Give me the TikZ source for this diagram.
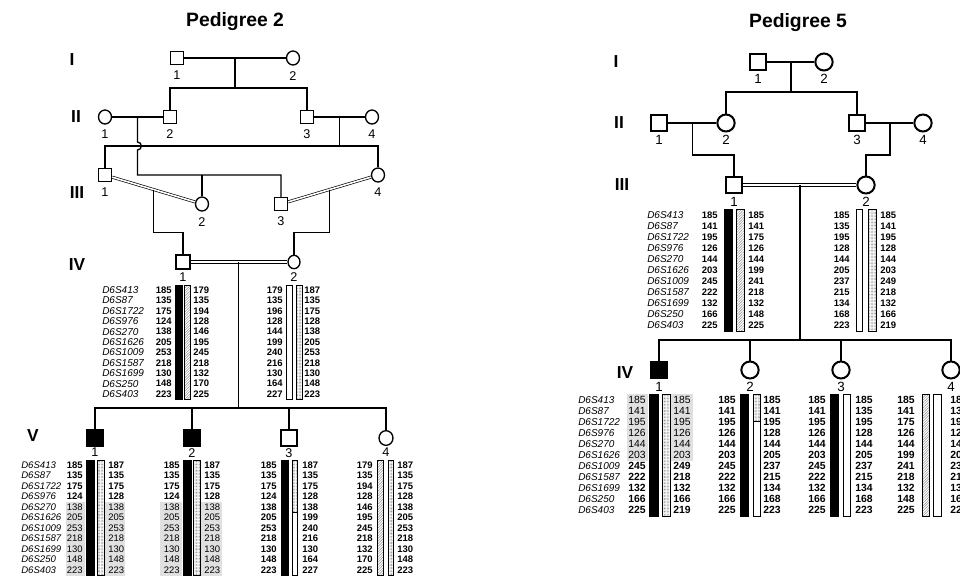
\documentclass[tikz,border=0pt]{standalone}
\usepackage{fontspec}
\setmainfont{Liberation Sans}
\usetikzlibrary{shapes.geometric}
\usetikzlibrary{patterns.meta}
\usetikzlibrary{calc}
\tikzstyle{sq}=[rectangle, draw=black, line width=1pt, minimum size=9.75pt, inner sep=0pt]
\tikzstyle{ci}=[ellipse, draw=black, line width=1pt, minimum width=9.75pt, minimum height=10.5pt,
                inner sep=0pt]
\tikzstyle{bsq}=[rectangle, draw=black, line width=1.5pt, minimum size=12.5pt, inner sep=0pt]
\tikzstyle{bci}=[ellipse, draw=black, line width=1.5pt, minimum width=13pt, minimum height=12.75pt,
                 inner sep=0pt]
\tikzstyle{aff}=[fill=black]
\tikzstyle{lbl}=[font=\fontsize{9.5}{9.5}\selectfont, inner sep=.5pt, yshift=-3.5pt]
\tikzstyle{dlbl}=[font=\fontsize{9.5}{9.5}\selectfont, inner sep=.5pt, yshift=-2pt]
\tikzstyle{elbl}=[font=\fontsize{9.5}{9.5}\selectfont, inner sep=.5pt, yshift=-.5pt]
\tikzstyle{blbl}=[font=\fontsize{10}{10}\selectfont, inner sep=.5pt, yshift=-1.2pt]
\tikzstyle{gen}=[font=\bfseries\fontsize{13}{13}\selectfont]
\tikzstyle{ttl}=[font=\bfseries\fontsize{14.5}{14.5}\selectfont]
\tikzstyle{mk}=[font=\itshape\fontsize{7.5}{7.5}\selectfont, inner sep=0pt, anchor=west]
\tikzstyle{smk}=[font=\itshape\fontsize{7.2}{7.2}\selectfont, inner sep=0pt, anchor=west]
\tikzstyle{num}=[font=\bfseries\fontsize{7.1}{7.1}\selectfont, inner sep=0pt]
\tikzstyle{bnum}=[font=\bfseries\fontsize{7.8}{7.8}\selectfont, inner sep=0pt]
\tikzstyle{blk}=[draw=black, line width=.4pt, fill=black]
\tikzstyle{wht}=[draw=black, line width=.4pt, fill=white]
\tikzstyle{hat}=[draw=black, line width=.4pt, pattern={Lines[angle=45, distance=1.4pt, line width=.35pt]},
                 pattern color=black!45]
\tikzstyle{stip}=[draw=black, line width=.4pt, pattern={Dots[distance=1.1pt, radius=.3pt]},
                  pattern color=black!55]
\tikzstyle{gry}=[fill=black!12, draw=none]
\tikzstyle{lnk}=[line width=1pt]
\tikzstyle{rlnk}=[line width=1.1pt]
\tikzstyle{cons}=[double, double distance=1.2pt, line width=.5pt]
\tikzstyle{rcons}=[double, double distance=1.5pt, line width=.8pt]

\begin{document}
\begin{tikzpicture}[x=.75pt, y=-.75pt]
      \useasboundingbox (0,0) rectangle (960,576);
      \clip (0,0) rectangle (960,576);

      %% Pedigree 2
      \node[ttl] (t2) at (235,22) {Pedigree 2};
      \node[gen] (g1) at (72,60) {I};
      \node[gen] (g2) at (76,117) {II};
      \node[gen] (g3) at (77,193) {III};
      \node[gen] (g4) at (77,265) {IV};
      \node[gen] (g5) at (33,436) {V};

      \node[sq, label={[lbl]below:1}] (a1) at (177,58) {};
      \node[ci, label={[lbl]below:2}] (a2) at (293,58) {};

      \node[ci, label={[lbl]below:1}] (b1) at (105,117) {};
      \node[sq, label={[lbl]below:2}] (b2) at (170,117) {};
      \node[sq, label={[lbl]below:3}] (b3) at (307,117) {};
      \node[ci, label={[lbl]below:4}] (b4) at (372,117) {};

      \node[sq, label={[lbl]below:1}] (c1) at (105,175) {};
      \node[ci, label={[lbl]below:2}] (c2) at (202,204) {};
      \node[sq, label={[lbl]below:3}] (c3) at (281,204) {};
      \node[ci, label={[lbl]below:4}] (c4) at (378,175) {};

      \node[sq, minimum size=10.5pt, label={[dlbl]below:1}] (d1) at (183,262) {};
      \node[ci, minimum width=9pt, minimum height=10pt, label={[dlbl]below:2}] (d2) at (294,262) {};

      \node[sq, aff, minimum size=12pt, label={[elbl]below:1}] (e1) at (95,438) {};
      \node[sq, aff, minimum size=12pt, label={[elbl]below:2}] (e2) at (192,438) {};
      \node[sq, minimum size=12pt, label={[elbl]below:3}] (e3) at (289,438) {};
      \node[ci, minimum width=10.5pt, minimum height=11pt, label={[elbl]below:4}] (e4) at (386,438) {};

      \draw[lnk] (a1) -- (a2);
      \coordinate (m1) at ($(a1)!.5!(a2)$);
      \coordinate (s1) at ($(m1)+(0,30)$);
      \draw[lnk] (m1) -- (s1);
      \draw[lnk] (b2) |- (s1) -| (b3);

      \draw[lnk] (b1) -- (b2);
      \coordinate (m2) at ($(b1)!.5!(b2)$);
      \coordinate (h1) at ($(m2)+(0,25)$);
      \coordinate (h2) at ($(m2)+(0,33)$);
      \coordinate (s2) at ($(m2)+(0,58)$);
      \draw[lnk] (b3) -- (b4);
      \coordinate (m3) at ($(b3)!.5!(b4)$);
      \coordinate (s3) at ($(m3)+(0,29)$);
      \draw[lnk] (m3) -- (s3);
      \draw[lnk] (c1) |- (s3) -| (c4);
      \draw[lnk] (m2) -- (h1) .. controls +(5,0) and +(5,0) .. (h2) -- (s2) -| (c3);
      \draw[lnk] (c2) -- (c2 |- s2);

      \draw[cons] (c1) -- (c2);
      \coordinate (m4) at ($(c1)!.5!(c2)$);
      \coordinate (s4) at ($(m4)+(0,43)$);
      \draw[lnk] (m4) -- (s4) -| (d1);
      \draw[cons] (c3) -- (c4);
      \coordinate (m5) at ($(c3)!.5!(c4)$);
      \coordinate (s5) at ($(m5)+(0,43)$);
      \draw[lnk] (m5) -- (s5) -| (d2);

      \draw[rcons] (d1) -- (d2);
      \coordinate (m6) at ($(d1)!.5!(d2)$);
      \coordinate (s6) at ($(m6)+(0,146)$);
      \draw[lnk] (m6) -- (s6);
      \draw[lnk] (e1) |- (s6) -| (e4);
      \draw[lnk] (e2) -- (e2 |- s6);
      \draw[lnk] (e3) -- (e3 |- s6);

      % markers
      \foreach \m [count=\i] in {D6S413,D6S87,D6S1722,D6S976,D6S270,D6S1626,D6S1009,
                                 D6S1587,D6S1699,D6S250,D6S403} {
        \node[mk] (nd\i) at (102,{290+10.4*(\i-1)}) {\m};
        \node[smk] (ne\i) at (21,{465+10.5*(\i-1)}) {\m};
        \node[mk] (rnc\i) at (647,{215+11*(\i-1)}) {\m};
        \node[mk] (rnd\i) at (578,{400+11*(\i-1)}) {\m};
      }

      % IV haplotypes
      \draw[blk] (175,285) rectangle (182,399);
      \draw[hat] (184,285) rectangle (190,399);
      \draw[wht] (286,285) rectangle (292,399);
      \draw[stip] (296,285) rectangle (302,399);
      \foreach \id/\x/\an/\vals in {
          d1a/172/east/{185,135,175,124,138,205,253,218,130,148,223},
          d1b/193/west/{179,135,194,128,146,195,245,218,132,170,225},
          d2a/283/east/{179,135,196,128,144,199,240,216,130,164,227},
          d2b/304/west/{187,135,175,128,138,205,253,218,130,148,223}}
        \foreach \v [count=\i] in \vals
          \node[num, anchor=\an] (\id\i) at (\x,{290+10.4*(\i-1)}) {\v};

      % V haplotypes
      \fill[gry] (66,502) rectangle (85,576);
      \fill[gry] (104,502) rectangle (125,576);
      \fill[gry] (160,502) rectangle (182,576);
      \fill[gry] (201,502) rectangle (222,576);
      \draw[blk] (86,460) rectangle (94,575);
      \draw[stip] (97,460) rectangle (104,575);
      \draw[blk] (183,460) rectangle (191,575);
      \draw[stip] (193,460) rectangle (200,575);
      \draw[blk] (281,460) rectangle (288,575);
      \draw[stip] (292,460) rectangle (297,512.5);
      \draw[wht] (292,512.5) rectangle (297,575);
      \draw[hat] (377,460) rectangle (383,575);
      \draw[stip] (388,460) rectangle (393,575);
      \foreach \id/\x/\an/\w/\vals in {
          e1a/83/east/5/{185,135,175,124,138,205,253,218,130,148,223},
          e1b/108/west/5/{187,135,175,128,138,205,253,218,130,148,223},
          e2a/180/east/5/{185,135,175,124,138,205,253,218,130,148,223},
          e2b/204/west/5/{187,135,175,128,138,205,253,218,130,148,223},
          e3a/277/east/12/{185,135,175,124,138,205,253,218,130,148,223},
          e3b/302/west/12/{187,135,175,128,138,199,240,216,130,164,227},
          e4a/373/east/12/{179,135,194,128,146,195,245,218,132,170,225},
          e4b/397/west/12/{187,135,175,128,138,205,253,218,130,148,223}}
        \foreach \v [count=\i] in \vals
          \node[num, anchor=\an] (\id\i) at (\x,{465+10.5*(\i-1)}) {\ifnum\i<\w\else\mdseries\fi\v};

      %% Pedigree 5
      \node[ttl] (t5) at (798,23) {Pedigree 5};
      \node[gen] (rg1) at (616,62) {I};
      \node[gen] (rg2) at (619,123) {II};
      \node[gen] (rg3) at (622,185) {III};
      \node[gen] (rg4) at (625,373) {IV};

      \node[bsq, label={[blbl]below:1}] (ra1) at (758,62) {};
      \node[bci, label={[blbl]below:2}] (ra2) at (824,62) {};

      \node[bsq, label={[blbl]below:1}] (rb1) at (659,123) {};
      \node[bci, label={[blbl]below:2}] (rb2) at (726,123) {};
      \node[bsq, label={[blbl]below:3}] (rb3) at (857,123) {};
      \node[bci, label={[blbl]below:4}] (rb4) at (923,123) {};

      \node[bsq, label={[blbl]below:1}] (rc1) at (734,185) {};
      \node[bci, label={[blbl]below:2}] (rc2) at (866,185) {};

      \node[bsq, aff, label={[blbl]below:1}] (rd1) at (659,370) {};
      \node[bci, label={[blbl]below:2}] (rd2) at (750,370) {};
      \node[bci, label={[blbl]below:3}] (rd3) at (841,370) {};
      \node[bci, label={[blbl]below:4}] (rd4) at (951,370) {};

      \draw[rlnk] (ra1) -- (ra2);
      \coordinate (rm1) at ($(ra1)!.5!(ra2)$);
      \coordinate (rs1) at ($(rm1)+(0,30)$);
      \draw[rlnk] (rm1) -- (rs1);
      \draw[rlnk] (rb2) |- (rs1) -| (rb3);

      \draw[rlnk] (rb1) -- (rb2);
      \coordinate (rm2) at ($(rb1)!.5!(rb2)$);
      \coordinate (rs2) at ($(rm2)+(0,32)$);
      \draw[rlnk] (rm2) -- (rs2) -| (rc1);
      \draw[rlnk] (rb3) -- (rb4);
      \coordinate (rm3) at ($(rb3)!.5!(rb4)$);
      \coordinate (rs3) at ($(rm3)+(0,32)$);
      \draw[rlnk] (rm3) -- (rs3) -| (rc2);

      \draw[rcons] (rc1) -- (rc2);
      \coordinate (rm4) at ($(rc1)!.5!(rc2)$);
      \coordinate (rs4) at ($(rm4)+(0,155)$);
      \draw[rlnk] (rm4) -- (rs4);
      \draw[rlnk] (rd1) |- (rs4) -| (rd4);
      \draw[rlnk] (rd2) -- (rd2 |- rs4);
      \draw[rlnk] (rd3) -- (rd3 |- rs4);

      % III haplotypes
      \draw[blk] (724,209) rectangle (732,331);
      \draw[hat] (736,209) rectangle (744,331);
      \draw[wht] (856,209) rectangle (862,331);
      \draw[stip] (868,209) rectangle (876,331);
      \foreach \id/\x/\an/\vals in {
          rc1a/718/east/{185,141,195,126,144,203,245,222,132,166,225},
          rc1b/748/west/{185,141,175,126,144,199,241,218,132,148,225},
          rc2a/850/east/{185,135,195,128,144,205,237,215,134,168,223},
          rc2b/880/west/{185,141,195,128,144,203,249,218,132,166,219}}
        \foreach \v [count=\i] in \vals
          \node[num, anchor=\an] (\id\i) at (\x,{215+11*(\i-1)}) {\v};

      % IV haplotypes
      \fill[gry] (627,394) rectangle (648,461);
      \fill[gry] (671,394) rectangle (693,461);
      \draw[blk] (649,394) rectangle (658,516);
      \draw[stip] (662,394) rectangle (670,516);
      \draw[blk] (740,394) rectangle (748,516);
      \draw[stip] (753,394) rectangle (760,421);
      \draw[wht] (753,421) rectangle (760,516);
      \draw[blk] (830,394) rectangle (838,516);
      \draw[wht] (843,394) rectangle (850,516);
      \draw[hat] (922,394) rectangle (929,516);
      \draw[wht] (933,394) rectangle (941,516);
      \foreach \id/\x/\an/\w/\vals in {
          rd1a/646/east/6/{185,141,195,126,144,203,245,222,132,166,225},
          rd1b/673/west/6/{185,141,195,126,144,203,249,218,132,166,219},
          rd2a/736/east/0/{185,141,195,126,144,203,245,222,132,166,225},
          rd2b/763/west/0/{185,141,195,128,144,205,237,215,134,168,223},
          rd3a/826/east/0/{185,141,195,126,144,203,245,222,132,166,225},
          rd3b/855/west/0/{185,135,195,128,144,205,237,215,134,168,223},
          rd4a/915/east/0/{185,141,175,126,144,199,241,218,132,148,225},
          rd4b/950/west/0/{185,135,195,128,144,205,237,215,134,168,223}}
        \foreach \v [count=\i] in \vals
          \node[bnum, anchor=\an] (\id\i) at (\x,{400+11*(\i-1)}) {\ifnum\i>\w\else\mdseries\fi\v};
    \end{tikzpicture}
\end{document}
